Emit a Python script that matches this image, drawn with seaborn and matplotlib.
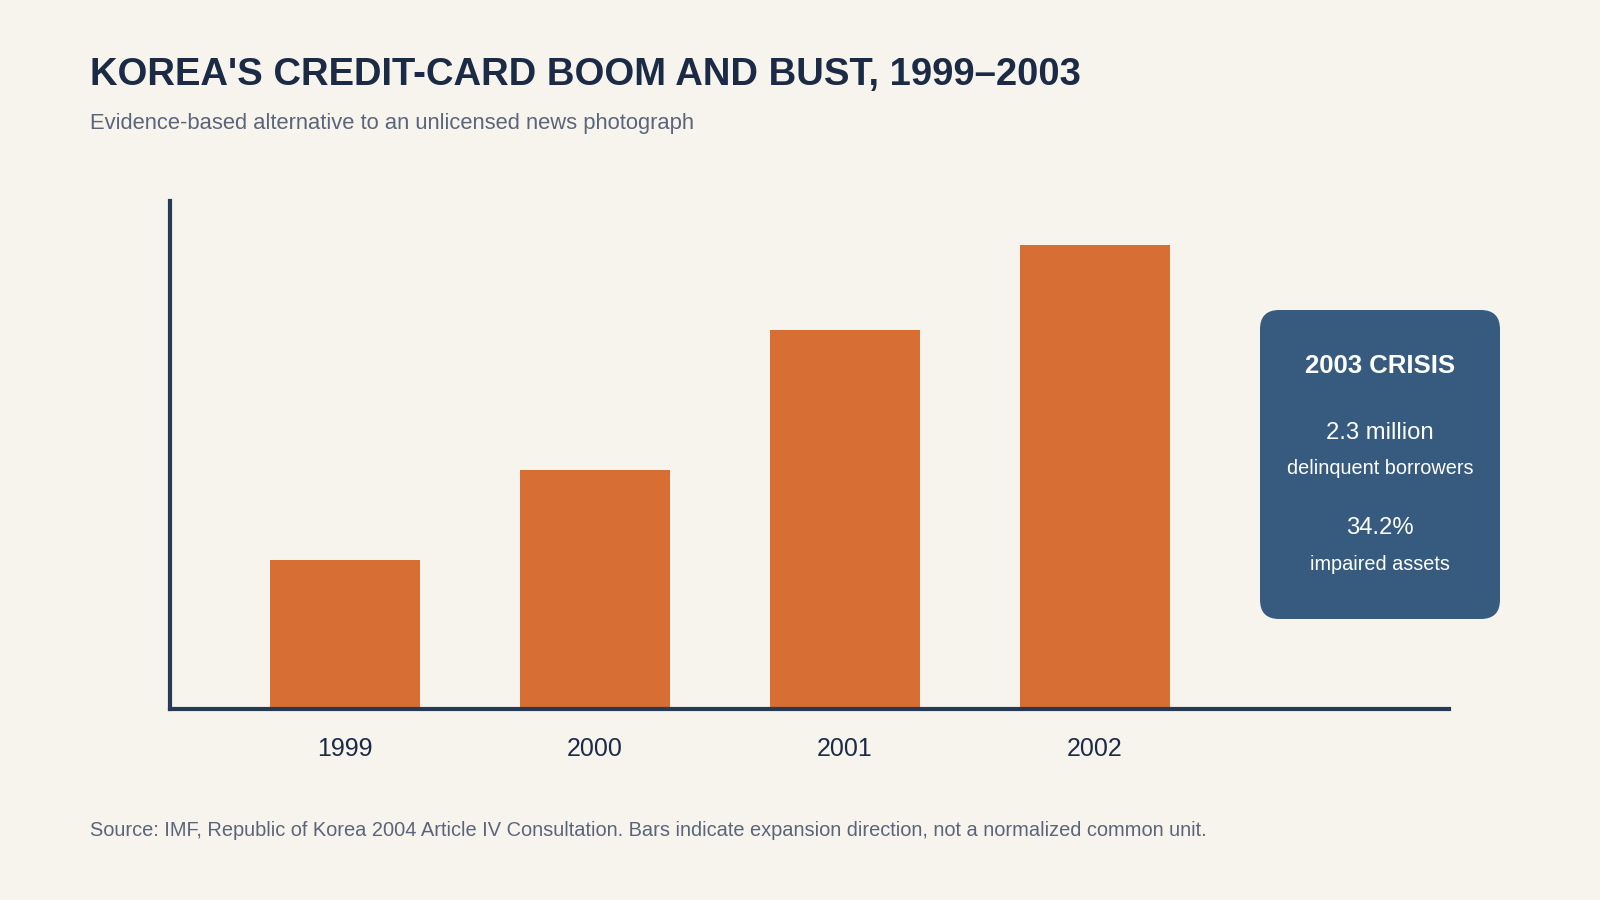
import matplotlib
matplotlib.use("Agg")
import matplotlib.pyplot as plt
from matplotlib.patches import FancyBboxPatch
import seaborn as sns
import pandas as pd

# ---- data ----
years = ["1999", "2000", "2001", "2002"]
expansion_index = [32.1, 51.5, 81.7, 100.0]  # relative bar heights (expansion direction)
crisis_title = "2003 CRISIS"
crisis_values = ["2.3 million", "34.2%"]
crisis_labels = ["delinquent borrowers", "impaired assets"]

title = "KOREA'S CREDIT-CARD BOOM AND BUST, 1999\u20132003"
subtitle = "Evidence-based alternative to an unlicensed news photograph"
source = ("Source: IMF, Republic of Korea 2004 Article IV Consultation. "
          "Bars indicate expansion direction, not a normalized common unit.")

BG = "#F7F4EE"
BAR = "#D76F35"
NAVY = "#1C2B45"
AXIS = "#263A54"
GREY = "#5B6579"
BOX = "#365B7E"

sns.set_theme(style="white")
plt.rcParams["font.family"] = ["Liberation Sans", "DejaVu Sans"]

df = pd.DataFrame({"year": years, "value": expansion_index})

fig = plt.figure(figsize=(16, 9), dpi=100, facecolor=BG)
ax = fig.add_axes([0.10625, 0.2122, 0.7994, 0.5645])
ax.set_facecolor(BG)

sns.barplot(data=df, x="year", y="value", order=years, color=BAR,
            width=0.6, saturation=1, ax=ax, edgecolor="none", linewidth=0)

ax.set_xlim(-0.7, 4.416)
ax.set_ylim(0, 109.5)
ax.set_xlabel("")
ax.set_ylabel("")
ax.set_yticks([])
ax.tick_params(axis="x", length=0, pad=20, labelsize=18, labelcolor=NAVY)
for s in ["top", "right"]:
    ax.spines[s].set_visible(False)
for s in ["left", "bottom"]:
    ax.spines[s].set_color(AXIS)
    ax.spines[s].set_linewidth(3)

fig.text(0.05625, 1 - 75 / 900, title, fontsize=27.5, fontweight="bold", color=NAVY,
         va="center", ha="left")
fig.text(0.05625, 1 - 124 / 900, subtitle, fontsize=15.8, color=GREY, va="center", ha="left")
fig.text(0.05625, 1 - 830 / 900, source, fontsize=14.4, color=GREY, va="center", ha="left")

# crisis box
bx0, bx1 = 1260 / 1600, 1500 / 1600
by0, by1 = 1 - 619 / 900, 1 - 310 / 900
box = FancyBboxPatch((bx0, by0), bx1 - bx0, by1 - by0,
                     boxstyle="round,pad=0,rounding_size=0.012",
                     transform=fig.transFigure, facecolor=BOX, edgecolor="none",
                     mutation_aspect=16 / 9)
fig.patches.append(box)
cx = (bx0 + bx1) / 2
fig.text(cx, 1 - 366 / 900, crisis_title, fontsize=18.5, fontweight="bold",
         color="white", ha="center", va="center")
val_y = [433, 528]
lab_y = [469, 564]
for v, l, vy, ly in zip(crisis_values, crisis_labels, val_y, lab_y):
    fig.text(cx, 1 - vy / 900, v, fontsize=17.2, color="white", ha="center", va="center")
    fig.text(cx, 1 - ly / 900, l, fontsize=14.3, color="white", ha="center", va="center")

fig.savefig("out.png", dpi=100, facecolor=BG)
